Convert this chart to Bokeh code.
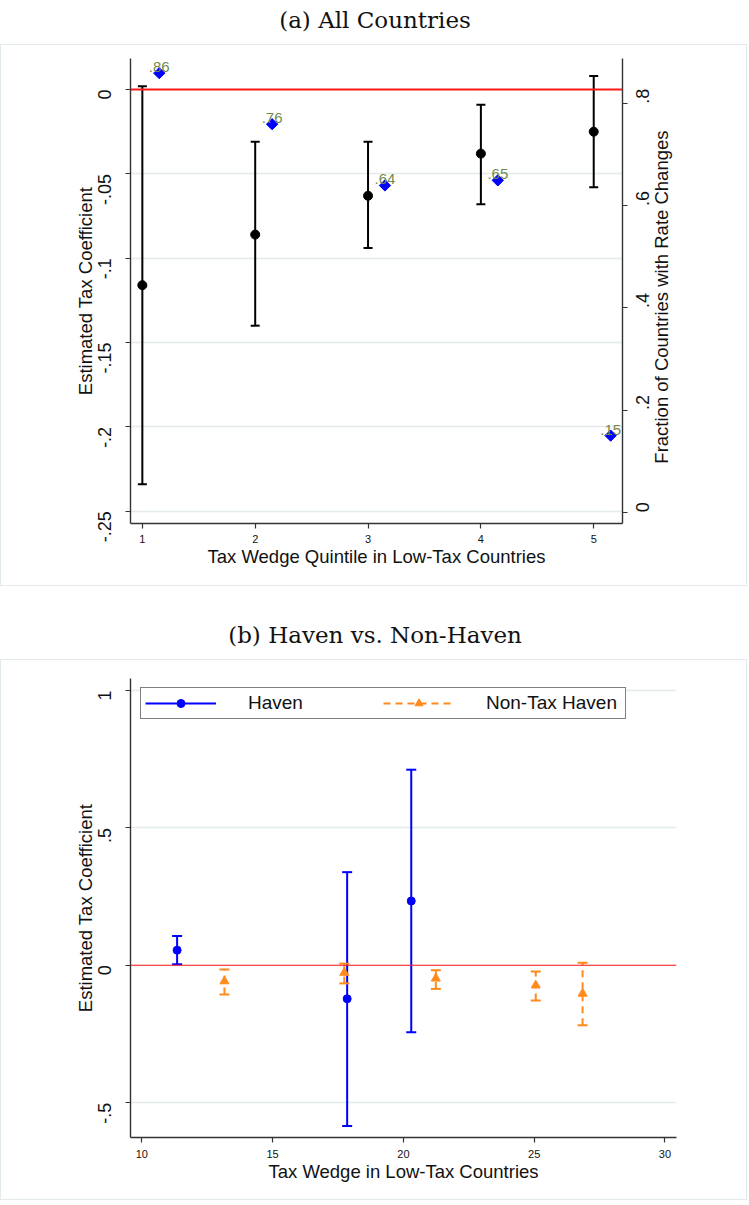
import math
from bokeh.plotting import figure
from bokeh.models import (Range1d, LinearAxis, FixedTicker, Span, Label, Legend,
                          LegendItem, ColumnDataSource)
from bokeh.embed import file_html
from bokeh.resources import INLINE
from bokeh.transform import dodge
from bokeh.core.properties import value

# ---------------- data ----------------
title_a = "(a) All Countries"
title_b = "(b) Haven vs. Non-Haven"

quintiles = [1, 2, 3, 4, 5]
coef_all = [-0.116, -0.086, -0.063, -0.038, -0.025]
ci_low_all = [-0.234, -0.140, -0.094, -0.068, -0.058]
ci_high_all = [0.002, -0.031, -0.031, -0.009, 0.008]
frac_rate_changes = [0.86, 0.76, 0.64, 0.65, 0.15]

a_x_ticks = [1, 2, 3, 4, 5]
a_y_ticks = [0, -0.05, -0.1, -0.15, -0.2, -0.25]
a_y_tick_labels = ["0", "-.05", "-.1", "-.15", "-.2", "-.25"]
a_r_ticks = [0, 0.2, 0.4, 0.6, 0.8]
a_r_tick_labels = ["0", ".2", ".4", ".6", ".8"]
a_r_title = "Fraction of Countries with Rate Changes"

haven_wedge = [11.35, 17.85, 20.30]
haven_coef = [0.055, -0.122, 0.234]
haven_low = [0.004, -0.585, -0.244]
haven_high = [0.107, 0.339, 0.712]

nonhaven_wedge = [13.16, 17.74, 21.24, 25.06, 26.85]
nonhaven_coef = [-0.058, -0.027, -0.048, -0.073, -0.103]
nonhaven_low = [-0.106, -0.066, -0.086, -0.128, -0.218]
nonhaven_high = [-0.015, 0.006, -0.018, -0.023, 0.009]

b_x_ticks = [10, 15, 20, 25, 30]
b_y_ticks = [-0.5, 0, 0.5, 1]
b_y_tick_labels = ["-.5", "0", ".5", "1"]

# ---------------- style ----------------
W = 749
SANS = "Liberation Sans"
SERIF = "DejaVu Serif"
GRID = "#e3ebeb"
AXIS = "#333333"
TXT = "#111111"
OLIVE = "#738a4e"
BLUE = "#0000ff"
ORANGE = "#ff8a1c"
BORDER = {"border": "1px solid #e2eaea"}


def title_fig(text, h, y):
    f = figure(width=W, height=h, output_backend="svg", toolbar_location=None,
               min_border=0, x_axis_type=None, y_axis_type=None,
               x_range=Range1d(0, W), y_range=Range1d(0, h))
    f.outline_line_color = None
    f.add_layout(Label(x=W / 2, y=y, text=text, text_font=SERIF,
                       text_font_size="23px", text_align="center",
                       text_baseline="middle", text_color="#111111"))
    return f


def style_axis(ax, label_size):
    ax.axis_line_color = AXIS
    ax.axis_line_width = 1.4
    ax.major_tick_line_color = AXIS
    ax.major_tick_line_width = 1.2
    ax.major_tick_out = 5
    ax.major_tick_in = 0
    ax.minor_tick_line_color = None
    ax.major_label_text_font = SANS
    ax.major_label_text_font_size = label_size
    ax.major_label_text_color = TXT
    ax.axis_label_text_font = SANS
    ax.axis_label_text_font_size = "18.5px"
    ax.axis_label_text_font_style = "normal"
    ax.axis_label_text_color = TXT
    ax.axis_label_standoff = 0


# ---------------- panel (a) ----------------
ta = title_fig(title_a, 44, 25)

xr_a = Range1d(0.895, 5.255)
yr_a = Range1d(-0.2573, 0.0184)
fr_a = Range1d(-0.0222, 0.8887)

pa = figure(width=W - 2, height=542, output_backend="svg", toolbar_location=None,
            x_range=xr_a, y_range=yr_a,
            min_border_left=129, min_border_right=126,
            min_border_top=13, min_border_bottom=64, styles=BORDER)
pa.outline_line_color = None
pa.extra_y_ranges = {"frac": fr_a}

src_a = ColumnDataSource(dict(
    q=quintiles, coef=coef_all, lo=ci_low_all, hi=ci_high_all,
    frac=frac_rate_changes,
    lbl=[("%.2f" % v).lstrip("0") for v in frac_rate_changes]))

pa.xaxis.ticker = FixedTicker(ticks=a_x_ticks)
pa.xaxis.axis_label = "Tax Wedge Quintile in Low-Tax Countries"
style_axis(pa.xaxis[0], "11px")
pa.xaxis.major_label_standoff = 6

yt_a = FixedTicker(ticks=a_y_ticks)
pa.yaxis.ticker = yt_a
pa.yaxis.major_label_overrides = dict(zip(a_y_ticks, a_y_tick_labels))
pa.yaxis.axis_label = "Estimated Tax Coefficient"
style_axis(pa.yaxis[0], "18px")
pa.yaxis.major_label_orientation = math.pi / 2
pa.yaxis.major_label_standoff = 21
pa.yaxis.axis_label_standoff = -7

ra = LinearAxis(y_range_name="frac", ticker=FixedTicker(ticks=a_r_ticks),
                major_label_overrides=dict(zip(a_r_ticks, a_r_tick_labels)))
style_axis(ra, "18px")
ra.major_label_orientation = math.pi / 2
ra.major_label_standoff = 15
pa.add_layout(ra, "right")

# right-hand axis title, drawn as a single centred label reading bottom-to-top
r_title_pos = 0.428
ra_title = LinearAxis(y_range_name="frac", ticker=FixedTicker(ticks=[r_title_pos]),
                      major_label_overrides={r_title_pos: a_r_title})
ra_title.axis_line_color = None
ra_title.major_tick_line_color = None
ra_title.minor_tick_line_color = None
ra_title.major_tick_out = 0
ra_title.major_tick_in = 0
ra_title.major_label_text_font = SANS
ra_title.major_label_text_font_size = "18.5px"
ra_title.major_label_text_color = TXT
ra_title.major_label_orientation = math.pi / 2
ra_title.major_label_standoff = 3
pa.add_layout(ra_title, "right")

pa.xgrid.visible = False
pa.ygrid.ticker = yt_a
pa.ygrid.grid_line_color = GRID
pa.ygrid.grid_line_width = 1.5

pa.add_layout(Span(location=0, dimension="width", line_color="#ff1a1a",
                   line_width=2))

pa.segment(x0="q", y0="lo", x1="q", y1="hi", source=src_a,
           line_color="black", line_width=2)
pa.scatter(x="q", y="lo", source=src_a, marker="dash", size=9,
           line_color="black", line_width=2)
pa.scatter(x="q", y="hi", source=src_a, marker="dash", size=9,
           line_color="black", line_width=2)
pa.scatter(x="q", y="coef", source=src_a, marker="circle", size=9,
           fill_color="black", line_color="black")
pa.scatter(x=dodge("q", 0.15), y="frac", y_range_name="frac", source=src_a,
           marker="square", angle=math.pi / 4, size=8,
           fill_color=BLUE, line_color=BLUE)
pa.text(x=dodge("q", 0.15), y="frac", y_range_name="frac", source=src_a,
        text="lbl", text_font=value(SANS), text_font_size="15px",
        text_color=OLIVE, text_align="center", text_baseline="alphabetic",
        y_offset=-6)

# ---------------- panel (b) ----------------
tb = title_fig(title_b, 73, 25)

pb = figure(width=W - 2, height=541, output_backend="svg", toolbar_location=None,
            x_range=Range1d(9.568, 30.44), y_range=Range1d(-0.627, 1.044),
            min_border_left=129, min_border_right=72,
            min_border_top=18, min_border_bottom=64, styles=BORDER)
pb.outline_line_color = None

pb.xaxis.ticker = FixedTicker(ticks=b_x_ticks)
pb.xaxis.axis_label = "Tax Wedge in Low-Tax Countries"
style_axis(pb.xaxis[0], "11px")
pb.xaxis.major_label_standoff = 7

yt_b = FixedTicker(ticks=b_y_ticks)
pb.yaxis.ticker = yt_b
pb.yaxis.major_label_overrides = dict(zip(b_y_ticks, b_y_tick_labels))
pb.yaxis.axis_label = "Estimated Tax Coefficient"
style_axis(pb.yaxis[0], "18px")
pb.yaxis.major_label_orientation = math.pi / 2
pb.yaxis.major_label_standoff = 21
pb.yaxis.axis_label_standoff = -7

pb.xgrid.visible = False
pb.ygrid.ticker = yt_b
pb.ygrid.grid_line_color = GRID
pb.ygrid.grid_line_width = 1.5

pb.add_layout(Span(location=0, dimension="width", line_color="#ff1a1a",
                   line_width=1.2))

src_h = ColumnDataSource(dict(x=haven_wedge, c=haven_coef, lo=haven_low, hi=haven_high))
src_n = ColumnDataSource(dict(x=nonhaven_wedge, c=nonhaven_coef, lo=nonhaven_low, hi=nonhaven_high))

seg_h = pb.segment(x0="x", y0="lo", x1="x", y1="hi", source=src_h,
                   line_color=BLUE, line_width=2)
pb.scatter(x="x", y="lo", source=src_h, marker="dash", size=10,
           line_color=BLUE, line_width=2)
pb.scatter(x="x", y="hi", source=src_h, marker="dash", size=10,
           line_color=BLUE, line_width=2)
pts_h = pb.scatter(x="x", y="c", source=src_h, marker="circle", size=8,
                   fill_color=BLUE, line_color=BLUE)

seg_n = pb.segment(x0="x", y0="lo", x1="x", y1="hi", source=src_n,
                   line_color=ORANGE, line_width=2, line_dash="7 5")
pb.scatter(x="x", y="lo", source=src_n, marker="dash", size=10,
           line_color=ORANGE, line_width=2)
pb.scatter(x="x", y="hi", source=src_n, marker="dash", size=10,
           line_color=ORANGE, line_width=2)
pts_n = pb.scatter(x="x", y="c", source=src_n, marker="triangle", size=9,
                   fill_color=ORANGE, line_color=ORANGE)

legend = Legend(items=[LegendItem(label="Haven", renderers=[seg_h, pts_h]),
                       LegendItem(label="Non-Tax Haven", renderers=[seg_n, pts_n])],
                orientation="horizontal", location=(10, 418), margin=0,
                padding=4, glyph_width=71, glyph_height=20, label_standoff=32,
                label_width=135, spacing=0, border_line_color="black",
                border_line_width=1.2, label_text_font=SANS,
                label_text_font_size="19px", label_text_color=TXT,
                background_fill_color="white", background_fill_alpha=1)
pb.add_layout(legend)

# separate roots, stacked top to bottom (keeps each panel's own frame width)
roots = [ta, pa, tb, pb]
open("out.html", "w").write(file_html(roots, INLINE))
